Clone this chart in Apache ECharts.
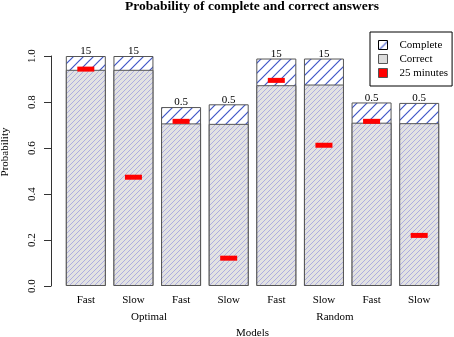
<!DOCTYPE html>
<html>
<head>
<meta charset="utf-8">
<script src="https://cdn.jsdelivr.net/npm/echarts@6/dist/echarts.min.js"></script>
<style>
html,body{margin:0;padding:0;background:#fff;}
#chart{width:454px;height:337px;}
</style>
</head>
<body>
<div id="chart"></div>
<script>
// ---- data ----
const categories = ['Fast', 'Slow', 'Fast', 'Slow', 'Fast', 'Slow', 'Fast', 'Slow'];
const groups = ['Optimal', 'Random'];
const complete = [1.0, 1.0, 0.778, 0.790, 0.989, 0.989, 0.798, 0.796];
const correct = [0.940, 0.940, 0.707, 0.705, 0.873, 0.876, 0.710, 0.708];
const minutes25 = [0.943, 0.473, 0.716, 0.121, 0.894, 0.612, 0.716, 0.220];
const topLabels = ['15', '15', '0.5', '0.5', '15', '15', '0.5', '0.5'];

function hatch(size, bg, fg, lw) {
  const c = document.createElement('canvas');
  c.width = size; c.height = size;
  const g = c.getContext('2d');
  g.fillStyle = bg; g.fillRect(0, 0, size, size);
  g.strokeStyle = fg; g.lineWidth = lw;
  g.beginPath();
  g.moveTo(-1, size + 1); g.lineTo(size + 1, -1);
  g.moveTo(-1, 1); g.lineTo(1, -1);
  g.moveTo(size - 1, size + 1); g.lineTo(size + 1, size - 1);
  g.stroke();
  return c;
}
const patComplete = { image: hatch(10, '#ffffff', '#3f55c8', 1.2), repeat: 'repeat' };
const patCorrect = { image: hatch(5, '#e2e2e2', '#a0a0e0', 0.8), repeat: 'repeat' };

const FONT = '"Liberation Serif", "DejaVu Serif", serif';
const chart = echarts.init(document.getElementById('chart'), null, { renderer: 'canvas' });

chart.setOption({
  animation: false,
  backgroundColor: '#ffffff',
  textStyle: { fontFamily: FONT, color: '#000' },
  title: {
    text: 'Probability of complete and correct answers',
    left: 252, top: 0, padding: 0, textAlign: 'center',
    textStyle: { fontFamily: FONT, fontWeight: 'bold', fontSize: 13.5, color: '#000' }
  },
  grid: { left: 62, right: 11, top: 56, bottom: 51, containLabel: false, outerBoundsMode: 'none' },
  legend: {
    orient: 'vertical', left: 370, top: 32,
    padding: [6, 4, 6, 8],
    borderColor: '#000', borderWidth: 1, backgroundColor: '#fff',
    itemWidth: 9, itemHeight: 9, itemGap: 0,
    textStyle: { fontFamily: FONT, fontSize: 11, color: '#000', lineHeight: 14, padding: [0, 0, 0, 7] },
    data: [
      { name: 'Complete', icon: 'rect', itemStyle: { color: patComplete, borderColor: '#000', borderWidth: 1 } },
      { name: 'Correct', icon: 'rect', itemStyle: { color: '#dcdcdc', borderColor: '#555', borderWidth: 1 } },
      { name: '25 minutes', icon: 'rect', itemStyle: { color: '#ff0000', borderColor: '#555', borderWidth: 1 } }
    ]
  },
  xAxis: {
    type: 'category', data: categories,
    axisLine: { show: false }, axisTick: { show: false },
    axisLabel: { fontFamily: FONT, fontSize: 11, color: '#000', margin: 9 },
    name: 'Models', nameLocation: 'middle', nameGap: 42,
    nameTextStyle: { fontFamily: FONT, fontSize: 11, color: '#000' }
  },
  yAxis: {
    type: 'value', min: 0, max: 1, interval: 0.2, offset: 11,
    axisLine: { show: true, lineStyle: { color: '#333', width: 1 } },
    axisTick: { show: true, length: 7, lineStyle: { color: '#333' } },
    splitLine: { show: false },
    axisLabel: { rotate: 90, fontFamily: FONT, fontSize: 11, color: '#000', margin: 13,
      formatter: v => v.toFixed(1) },
    name: 'Probability', nameLocation: 'middle', nameRotate: 90, nameGap: 40,
    nameTextStyle: { fontFamily: FONT, fontSize: 11, color: '#000', padding: [0, 0, 0, 38] }
  },
  graphic: groups.map((g, i) => ({
    type: 'text', x: [149, 335][i], y: 317,
    style: { text: g, font: '11px ' + FONT, fill: '#000', textAlign: 'center', textVerticalAlign: 'middle' }
  })),
  series: [
    {
      name: 'Complete', type: 'bar', data: complete, barWidth: 40,
      itemStyle: { color: patComplete, borderColor: '#555', borderWidth: 1 },
      label: { show: true, position: 'top', distance: -1, fontFamily: FONT, fontSize: 11, color: '#000',
        formatter: p => topLabels[p.dataIndex] }
    },
    {
      name: 'Correct', type: 'bar', data: correct, barWidth: 40, barGap: '-100%',
      itemStyle: { color: patCorrect, borderColor: '#555', borderWidth: 1 }
    },
    {
      name: '25 minutes', type: 'scatter', data: minutes25, symbol: 'rect', symbolSize: [17, 5], z: 5,
      itemStyle: { color: '#ff0000', opacity: 1 }
    }
  ]
});
</script>
</body>
</html>
